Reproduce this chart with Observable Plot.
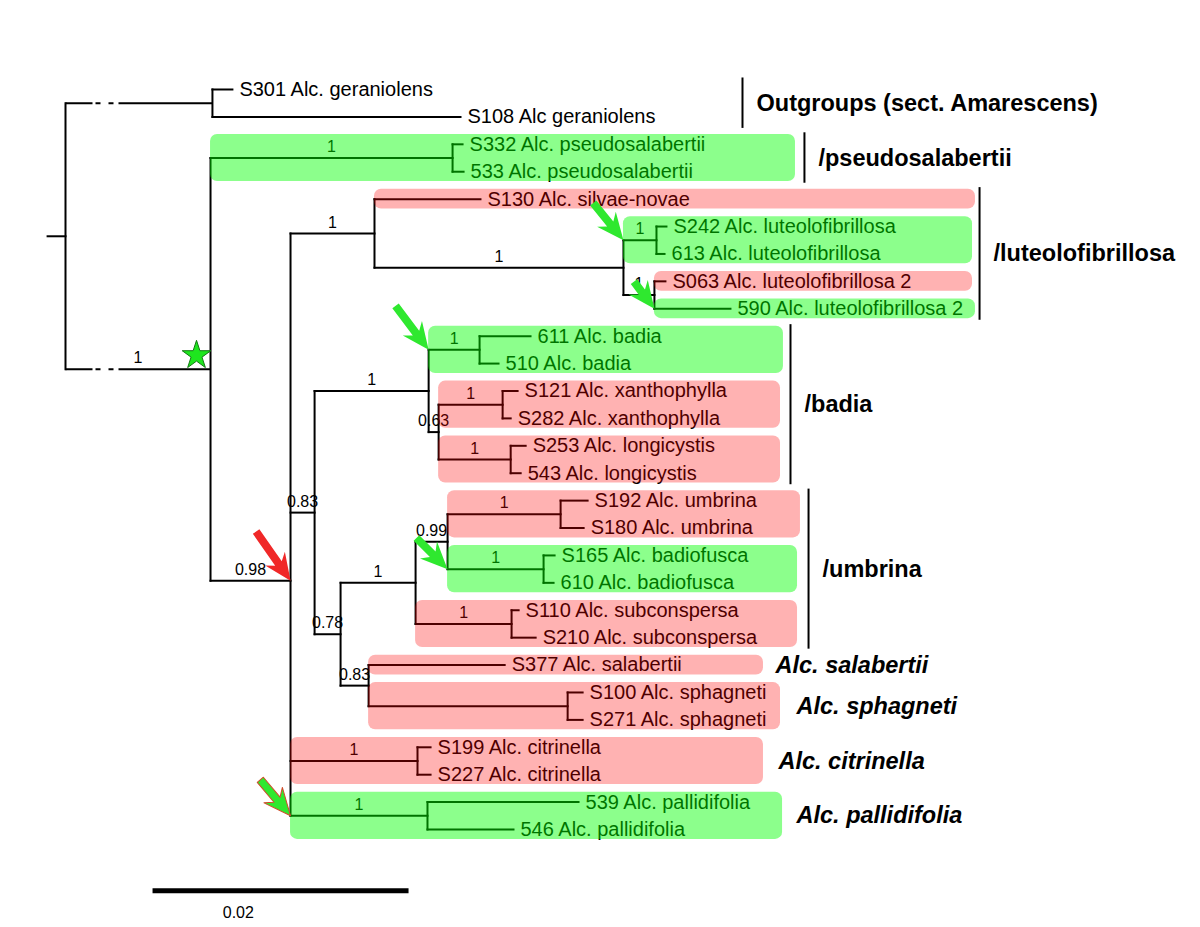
<!DOCTYPE html>
<html><head><meta charset="utf-8">
<script src="https://cdn.jsdelivr.net/npm/d3@7"></script>
<script src="https://cdn.jsdelivr.net/npm/@observablehq/plot@0.6"></script>
<style>body{margin:0;background:#fff}#chart svg{display:block}</style>
</head><body><div id="chart"></div>
<script>
// ---- Tree data (preorder), branch lengths in substitutions/site ----
const nodeId = ["root","OG","S301","S108","IN","PS","S332","533","N290","LU","S130","L2","L3","S242","613","L4","S063","590",
  "N314","N428","BA","611","510","N438","XA","S121","S282","LO","S253","543","N340","N415","N447","UM","S192","S180","BF","S165","610",
  "SC","S110","S210","N368","S377","SP","S100","S271","CI","S199","S227","PA","539","546"];
const nodeParent = [null,"root","OG","OG","root","IN","PS","PS","IN","N290","LU","LU","L2","L3","L3","L2","L4","L4",
  "N290","N314","N428","BA","BA","N428","N438","XA","XA","N438","LO","LO","N314","N340","N415","N447","UM","UM","N447","BF","BF",
  "N415","SC","SC","N340","N368","N368","SP","SP","N290","CI","CI","N290","PA","PA"];
const branchLength = [0.0014,0.01148,0.00156,0.01938,0.01133,0.01891,0.00078,0.00086,0.00625,0.00656,0.00828,0.01945,0.00258,0.00078,0.00063,0.00242,0.00086,0.00594,
  0.00188,0.00891,0.00398,0.00398,0.00148,0.00078,0.005,0.00117,0.00063,0.00563,0.00117,0.00078,0.00203,0.00586,0.0025,0.00883,0.00211,0.0018,0.0075,0.00086,0.00078,
  0.0075,0.00055,0.00188,0.00219,0.01063,0.01555,0.00117,0.00117,0.00992,0.00102,0.00102,0.0107,0.0118,0.00672];
const tipLabel = ["","","S301 Alc. geraniolens","S108 Alc geraniolens","","","S332 Alc. pseudosalabertii","533 Alc. pseudosalabertii","","",
  "S130 Alc. silvae-novae","","","S242 Alc. luteolofibrillosa","613 Alc. luteolofibrillosa","","S063 Alc. luteolofibrillosa 2","590 Alc. luteolofibrillosa 2",
  "","","","611 Alc. badia","510 Alc. badia","","","S121 Alc. xanthophylla","S282 Alc. xanthophylla","","S253 Alc. longicystis","543 Alc. longicystis",
  "","","","","S192 Alc. umbrina","S180 Alc. umbrina","","S165 Alc. badiofusca","610 Alc. badiofusca",
  "","S110 Alc. subconspersa","S210 Alc. subconspersa","","S377 Alc. salabertii","","S100 Alc. sphagneti","S271 Alc. sphagneti",
  "","S199 Alc. citrinella","S227 Alc. citrinella","","539 Alc. pallidifolia","546 Alc. pallidifolia"];
const support = [null,null,null,null,"1","1",null,null,"0.98","1",null,"1","1",null,null,"1",null,null,
  "0.83","1","1",null,null,"0.63","1",null,null,"1",null,null,"0.78","1","0.99","1",null,null,"1",null,null,
  "1",null,null,"0.83",null,null,null,null,"1",null,null,"1",null,null];
const brokenBranch = ["OG","IN"];

// ---- highlighted clades ----
const hlNode  = ["PS","S130","L3","S063","590","BA","XA","LO","UM","BF","SC","S377","SP","CI","PA"];
const hlColor = ["green","red","green","red","green","green","red","red","red","green","red","red","red","red","green"];
const hlRight = [0.05703,0.07109,0.07086,0.07086,0.07109,0.05609,0.05586,0.05586,0.05742,0.05719,0.05719,0.05453,0.05586,0.05453,0.05602];

// ---- clade annotations ----
const cladeName = ["Outgroups (sect. Amarescens)","/pseudosalabertii","/luteolofibrillosa","/badia","/umbrina",
  "Alc. salabertii","Alc. sphagneti","Alc. citrinella","Alc. pallidifolia"];
const cladeNode = ["OG","PS","LU","N428","N415","S377","SP","CI","PA"];
const cladeX    = [0.05289,0.05773,0.07141,0.05664,0.05805,0.05547,0.05711,0.05570,0.05711];
const cladeBar  = [true,true,true,true,true,false,false,false,false];

// ---- markers ----
const arrowNode  = ["L3","590","BA","BF","PA","N290"];
const arrowColor = ["green","green","green","green","green-red","red"];
const arrowAt    = ["stem","stem","stem","stem","stem","node"];
const starNode = "IN";
const scaleBarStart = 0.0068, scaleBarLength = 0.02, scaleBarLabel = "0.02";

// ---- layout ----
const nodes = nodeId.map((id,i)=>({id, parent:nodeParent[i], len:branchLength[i], label:tipLabel[i], support:support[i], children:[]}));
const byId = new Map(nodes.map(n=>[n.id,n]));
for (const n of nodes) if (n.parent) byId.get(n.parent).children.push(n);
for (const n of nodes) n.x = n.parent ? byId.get(n.parent).x + n.len : 0;
let row = 0; for (const n of nodes) if (!n.children.length) n.y = row++;
for (let i = nodes.length-1; i >= 0; --i) { const n = nodes[i]; if (n.children.length) n.y = d3.mean(n.children, c=>c.y); }
function leafRange(n){ if(!n.children.length) return [n.y,n.y]; const rs=n.children.map(leafRange); return [d3.min(rs,d=>d[0]), d3.max(rs,d=>d[1])]; }
const px = n => byId.get(n.parent).x;

const rootNode = nodes[0];
const hBranches = nodes.filter(n=>n.parent && !brokenBranch.includes(n.id)).map(n=>({x1:px(n), x2:n.x, y:n.y}));
hBranches.push({x1:-rootNode.len, x2:0, y:rootNode.y});
const bBranches = nodes.filter(n=>brokenBranch.includes(n.id)).map(n=>({x1:px(n), x2:n.x, y:n.y}));
const vBranches = nodes.filter(n=>n.children.length).map(n=>({x:n.x, y1:d3.min(n.children,c=>c.y), y2:d3.max(n.children,c=>c.y)}));
const leaves = nodes.filter(n=>!n.children.length);
const supports = nodes.filter(n=>n.support!=null).map(n=>({x:(px(n)+n.x)/2, y:n.y, t:n.support}));

const fillFor = {green:"rgba(0,255,0,0.45)", red:"rgba(255,0,0,0.3)"};
const highlights = hlNode.map((id,i)=>{const n=byId.get(id); const [a,b]=leafRange(n);
  return {x1:px(n), x2:hlRight[i], y1:a-0.36, y2:b+0.36, fill:fillFor[hlColor[i]]};});

const clades = cladeName.map((name,i)=>{const [a,b]=leafRange(byId.get(cladeNode[i]));
  return {name, x:cladeX[i], y1:a-0.42, y2:b+0.42, yc:(a+b)/2, bar:cladeBar[i]};});

const arrowStyle = {
  L3:{len:48, rot:141}, "590":{len:34, rot:143}, BA:{len:55, rot:143}, BF:{len:44, rot:135},
  PA:{len:47, rot:140}, N290:{len:60, rot:145}
};
const arrowFill = {green:"#2fe82f","green-red":"#2fe82f", red:"#f02828"};
const arrowStroke = {green:"none","green-red":"#d24a2a", red:"none"};
const arrows = arrowNode.map((id,i)=>{const n=byId.get(id);
  return {x: arrowAt[i]==="stem" ? px(n) : n.x, y:n.y, len:arrowStyle[id].len, rot:arrowStyle[id].rot,
    fill:arrowFill[arrowColor[i]], stroke:arrowStroke[arrowColor[i]]};});
const arrowShape = {draw(ctx, l){
  const sw=4, hw=12, hl=21, back=6;
  ctx.moveTo(-sw,0); ctx.lineTo(-sw,-(l-hl)); ctx.lineTo(-hw,-(l-hl)+back); ctx.lineTo(0,-l);
  ctx.lineTo(hw,-(l-hl)+back); ctx.lineTo(sw,-(l-hl)); ctx.lineTo(sw,0); ctx.closePath();
}};

const star = byId.get(starNode);
const FONT = "Liberation Sans, Arial, sans-serif";

const chart = Plot.plot({
  width:1200, height:927, margin:0,
  style:{background:"white"},
  x:{domain:[0,0.0875], range:[65,1185], axis:null},
  y:{domain:[-3.247,30.575], range:[0,927], axis:null},
  length:{type:"identity"},
  marks:[
    Plot.link(hBranches,{x1:"x1",x2:"x2",y1:"y",y2:"y",stroke:"black",strokeWidth:2,strokeLinecap:"square"}),
    Plot.link(bBranches,{x1:"x1",x2:"x2",y1:"y",y2:"y",stroke:"black",strokeWidth:2,strokeDasharray:"27 3 5 8 5 5 2000"}),
    Plot.link(vBranches,{x1:"x",x2:"x",y1:"y1",y2:"y2",stroke:"black",strokeWidth:2,strokeLinecap:"square"}),
    Plot.text(leaves,{x:"x",y:"y",text:"label",dx:7,textAnchor:"start",fontSize:20,fontFamily:FONT,fill:"black"}),
    Plot.text(supports,{x:"x",y:"y",text:"t",dy:-11,fontSize:16,fontFamily:FONT,fill:"black"}),
    Plot.rect(highlights,{x1:"x1",x2:"x2",y1:"y1",y2:"y2",fill:"fill",rx:7}),
    Plot.ruleX(clades.filter(d=>d.bar),{x:"x",y1:"y1",y2:"y2",stroke:"black",strokeWidth:2}),
    Plot.text(clades.filter(d=>d.bar),{x:"x",y:"yc",text:"name",dx:14,textAnchor:"start",fontSize:23.5,fontWeight:"bold",fontFamily:FONT,fill:"black"}),
    Plot.text(clades.filter(d=>!d.bar),{x:"x",y:"yc",text:"name",textAnchor:"start",fontSize:23.5,fontWeight:"bold",fontStyle:"italic",fontFamily:FONT,fill:"black"}),
    Plot.dot([star],{x:"x",y:"y",dx:-14,dy:-14,symbol:"star",r:9,fill:"#1ee61e",stroke:"#137a13",strokeWidth:1}),
    Plot.vector(arrows,{x:"x",y:"y",length:"len",rotate:"rot",anchor:"end",shape:arrowShape,fill:"fill",stroke:"stroke",strokeWidth:1}),
    Plot.link([{x1:scaleBarStart,x2:scaleBarStart+scaleBarLength,y:29.23}],{x1:"x1",x2:"x2",y1:"y",y2:"y",stroke:"black",strokeWidth:5}),
    Plot.text([{x:scaleBarStart+scaleBarLength*0.335,y:30.03,t:scaleBarLabel}],{x:"x",y:"y",text:"t",fontSize:16,fontFamily:FONT,fill:"black"})
  ]
});
document.getElementById("chart").append(chart);
</script></body></html>
